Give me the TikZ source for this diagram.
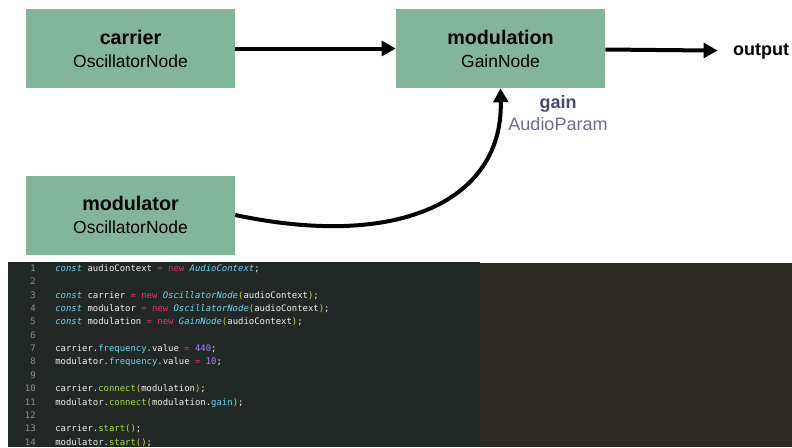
\documentclass[tikz,border=0pt]{standalone}
\usepackage{fontspec}
\setmainfont{Liberation Sans}
\setmonofont{DejaVu Sans Mono}
\usetikzlibrary{arrows.meta,positioning}

\definecolor{boxgreen}{HTML}{82B59B}
\definecolor{paramdark}{HTML}{474B66}
\definecolor{paramlight}{HTML}{6B6F8A}
\definecolor{editorleft}{HTML}{222826}
\definecolor{editorright}{HTML}{2A2A22}
\definecolor{jsplain}{HTML}{F2F2EC}
\definecolor{jsgutter}{HTML}{8F908A}
\definecolor{jsblue}{HTML}{66D9EF}
\definecolor{jspink}{HTML}{F92672}
\definecolor{jspurple}{HTML}{AE81FF}
\definecolor{jsgreen}{HTML}{A6E22E}
\definecolor{jsyellow}{HTML}{E6C84A}

\newcommand{\jskw}[1]{\textcolor{jsblue}{\itshape #1}}
\newcommand{\jsop}[1]{\textcolor{jspink}{#1}}
\newcommand{\jsnum}[1]{\textcolor{jspurple}{#1}}
\newcommand{\jsprop}[1]{\textcolor{jsblue}{#1}}
\newcommand{\jsfn}[1]{\textcolor{jsgreen}{#1}}
\newcommand{\jspar}[1]{\textcolor{jsyellow}{#1}}
\newcommand{\audiobox}[2]{{\fontsize{14.8}{17.25}\selectfont\bfseries #1}\\#2}

\begin{document}
\begin{tikzpicture}[x=0.75pt,y=-0.75pt,
    audionode/.style={fill=boxgreen,minimum width=156.75pt,minimum height=59.25pt,
        align=center,inner sep=0pt,font=\fontsize{13.1}{17.25}\selectfont},
    flow/.style={line width=3pt,-{Triangle[length=10.5pt,width=11pt]}},
    codeline/.style={anchor=base west,inner sep=0pt,text=jsplain,
        font=\fontsize{6.7}{8}\selectfont\ttfamily},
    gutter/.style={anchor=base east,inner sep=0pt,text=jsgutter,
        font=\fontsize{6.7}{8}\selectfont\ttfamily}]
    \useasboundingbox (0,0) rectangle (792,447);

    % Editor background
    \fill[editorright] (480,263) rectangle (792,447);
    \fill[editorleft] (8,262) rectangle (480,447);

    % Audio graph
    \node[audionode] (carrier) at (130.5,48.5) {\audiobox{carrier}{OscillatorNode}};
    \node[audionode] (modulation) at (500.5,48.5) {\audiobox{modulation}{GainNode}};
    \node[audionode] (modulator) at (130.5,215) {\audiobox{modulator}{OscillatorNode}};
    \node[font=\fontsize{13.5}{16}\selectfont\bfseries] (output) at (761,51) {output};
    \node[align=center,inner sep=0pt,text=paramlight,font=\fontsize{13.5}{16.5}\selectfont]
        (gain) at (558,113) {\textcolor{paramdark}{\bfseries gain}\\AudioParam};

    \draw[flow] (carrier) -- (modulation);
    \draw[flow,shorten >=8pt] (modulation) -- (output);
    \draw[flow] (modulator.east) .. controls (400,250) and (503,200) .. (modulation.south);

    % Line numbers
    \foreach \n in {1,...,14} {
        \node[gutter] (num\n) at (36,{271.5+(\n-1)*13.35}) {\n};
    }

    % Code
    \node[codeline] (code1) at (55,271.5) {\jskw{const} audioContext \jsop{=} \jsop{new} \jskw{AudioContext};};
    \node[codeline] (code3) at (55,{271.5+2*13.35}) {\jskw{const} carrier \jsop{=} \jsop{new} \jskw{OscillatorNode}\jspar{(}audioContext\jspar{)};};
    \node[codeline] (code4) at (55,{271.5+3*13.35}) {\jskw{const} modulator \jsop{=} \jsop{new} \jskw{OscillatorNode}\jspar{(}audioContext\jspar{)};};
    \node[codeline] (code5) at (55,{271.5+4*13.35}) {\jskw{const} modulation \jsop{=} \jsop{new} \jskw{GainNode}\jspar{(}audioContext\jspar{)};};
    \node[codeline] (code7) at (55,{271.5+6*13.35}) {carrier.\jsprop{frequency}.value \jsop{=} \jsnum{440};};
    \node[codeline] (code8) at (55,{271.5+7*13.35}) {modulator.\jsprop{frequency}.value \jsop{=} \jsnum{10};};
    \node[codeline] (code10) at (55,{271.5+9*13.35}) {carrier.\jsfn{connect}\jspar{(}modulation\jspar{)};};
    \node[codeline] (code11) at (55,{271.5+10*13.35}) {modulator.\jsfn{connect}\jspar{(}modulation.\jsprop{gain}\jspar{)};};
    \node[codeline] (code13) at (55,{271.5+12*13.35}) {carrier.\jsfn{start}\jspar{()};};
    \node[codeline] (code14) at (55,{271.5+13*13.35}) {modulator.\jsfn{start}\jspar{()};};
\end{tikzpicture}
\end{document}
